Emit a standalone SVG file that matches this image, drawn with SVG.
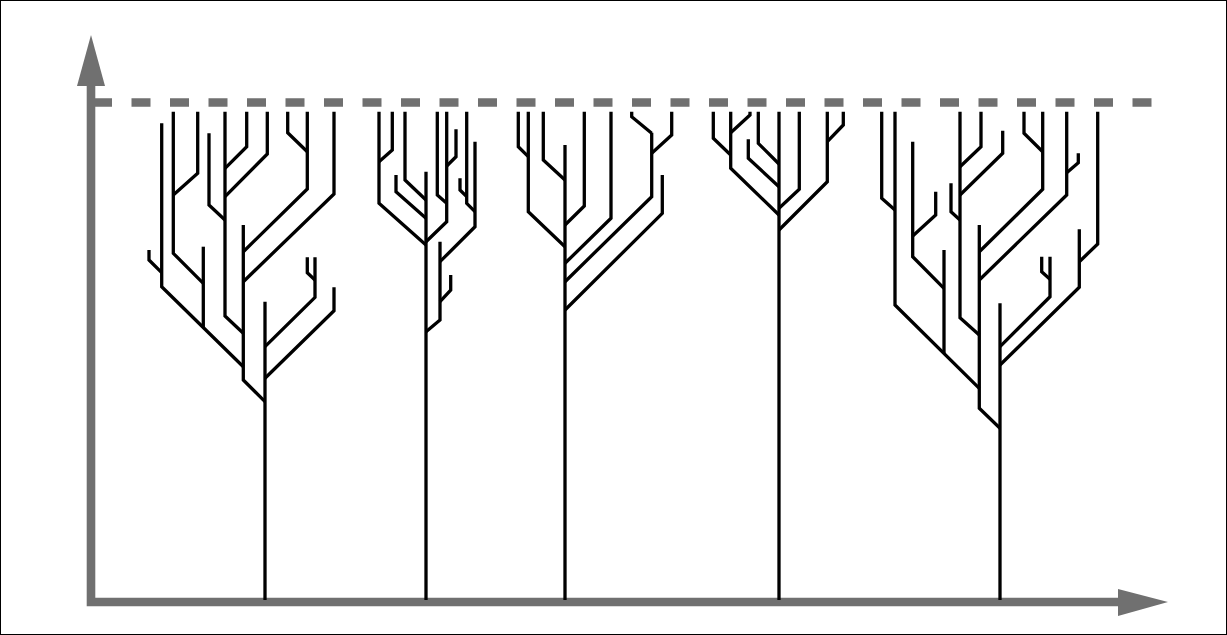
<svg xmlns="http://www.w3.org/2000/svg" width="1227" height="635" viewBox="0 0 1227 635">
<style>
.br{fill:none;stroke:#000;stroke-width:3.3;stroke-linejoin:miter;stroke-linecap:butt}
.ax{fill:none;stroke:#707070;stroke-width:8.6}
.ah{fill:#707070}
</style>
<rect x="0.5" y="0.5" width="1226" height="634" fill="#fff" stroke="#000" stroke-width="1"/>
<g id="axes">
<path class="ax" d="M91,86 V602 H1120"/>
<polygon class="ah" points="91,35 77,86 105,86"/>
<polygon class="ah" points="1168,602 1118,589 1118,616"/>
<line class="ax" x1="93" y1="102.5" x2="1155" y2="102.5" stroke-dasharray="19 19.5"/>
</g>
<g id="tree1" class="br">
<path d="M265,600 V301.7"/>
<path d="M265,378.3 L334,310.7 V287.3"/>
<path d="M265,346.7 L315,297.3 V257.3"/>
<path d="M315,280 L307.3,272.7 V257.3"/>
<path d="M265,401.7 L243.3,380 V225"/>
<path d="M243.3,333.3 L225,316 V111.7"/>
<path d="M243.3,366.7 L161.7,286.7 V123.3"/>
<path d="M203.3,327.3 V246.7"/>
<path d="M203.3,283.3 L173.3,253.3 V111.7"/>
<path d="M173.3,195 L197.7,173.3 V111.7"/>
<path d="M161.7,272.7 L149,260 V250"/>
<path d="M243.3,281.7 L334,194 V111.7"/>
<path d="M243.3,251.7 L307.3,189 V111.7"/>
<path d="M307.3,151.7 L287.7,132.7 V111.7"/>
<path d="M225,220 L209,205 V133.3"/>
<path d="M225,196.7 L267.3,154 V111.7"/>
<path d="M225,168.3 L246.7,146.7 V111.7"/>
</g>
<g id="tree2" class="br">
<path d="M426,600 V171.7"/>
<path d="M426,245 L379,203.3 V111.7"/>
<path d="M379,161.7 L392.3,150 V111.7"/>
<path d="M426,200 L405,180 V111.7"/>
<path d="M426,218.3 L396,191.7 V175"/>
<path d="M426,241.7 L446.7,221.7 V111.7"/>
<path d="M446.7,203.3 L437.3,195 V111.7"/>
<path d="M446.7,166 L456,156.7 V129.3"/>
<path d="M475,211.7 L466.7,203.3 V111.7"/>
<path d="M466.7,196.7 L460,190 V178.3"/>
<path d="M440,261.7 L475,226.7 V141.7"/>
<path d="M426,331.7 L440,320 V241.7"/>
<path d="M440,301.7 L450.7,290 V275"/>
</g>
<g id="tree3" class="br">
<path d="M565,600 V145"/>
<path d="M565,246.7 L528.3,211.7 V111.7"/>
<path d="M528.3,156.7 L518.3,146.7 V111.7"/>
<path d="M565,180 L543.3,160 V111.7"/>
<path d="M565,225 L584.3,206 V111.7"/>
<path d="M565,263.3 L611,218.3 V111.7"/>
<path d="M565,281.7 L651.7,196.7 V132.7"/>
<path d="M651.7,133.3 L631.7,116.7 V111.7"/>
<path d="M651.7,153.3 L671.7,135 V111.7"/>
<path d="M565,310 L662.3,213.3 V175"/>
</g>
<g id="tree4" class="br">
<path d="M779,600 V111.7"/>
<path d="M779,215 L730.7,168.3 V111.7"/>
<path d="M730.7,155 L713.3,138.3 V111.7"/>
<path d="M730.7,132.7 L750,115 V111.7"/>
<path d="M779,164 L758.3,143.3 V111.7"/>
<path d="M779,186.7 L748.3,158.3 V139.3"/>
<path d="M779,208.3 L799.3,189.3 V111.7"/>
<path d="M779,230 L827.3,181.7 V111.7"/>
<path d="M827.3,141.7 L843.3,125 V111.7"/>
</g>
<g id="tree5" class="br">
<path d="M1000,600 V303.3"/>
<path d="M1000,428.3 L979.3,408.3 V225"/>
<path d="M1000,365 L1079.3,287.3 V229.3"/>
<path d="M1079.3,261.7 L1097.7,244 V111.7"/>
<path d="M1000,346.7 L1050,296.7 V256.7"/>
<path d="M1050,279.3 L1041.7,271.7 V256.7"/>
<path d="M979.3,388.3 L895,305 V111.7"/>
<path d="M895,210 L881.7,198.3 V111.7"/>
<path d="M944,353 V250"/>
<path d="M944,288.3 L912.7,256.7 V141.7"/>
<path d="M912.7,236 L935.7,215 V191.7"/>
<path d="M979.3,335 L960,317.7 V111.7"/>
<path d="M960,220 L951,211.7 V183.3"/>
<path d="M960,195 L1002.7,153.3 V130.7"/>
<path d="M960,166.7 L981,146.7 V111.7"/>
<path d="M979.3,280 L1066.7,195 V111.7"/>
<path d="M1066.7,172.7 L1078.3,162.7 V153.3"/>
<path d="M979.3,251.7 L1042.7,189.3 V111.7"/>
<path d="M1042.7,151.7 L1024,133.3 V111.7"/>
</g>
</svg>
